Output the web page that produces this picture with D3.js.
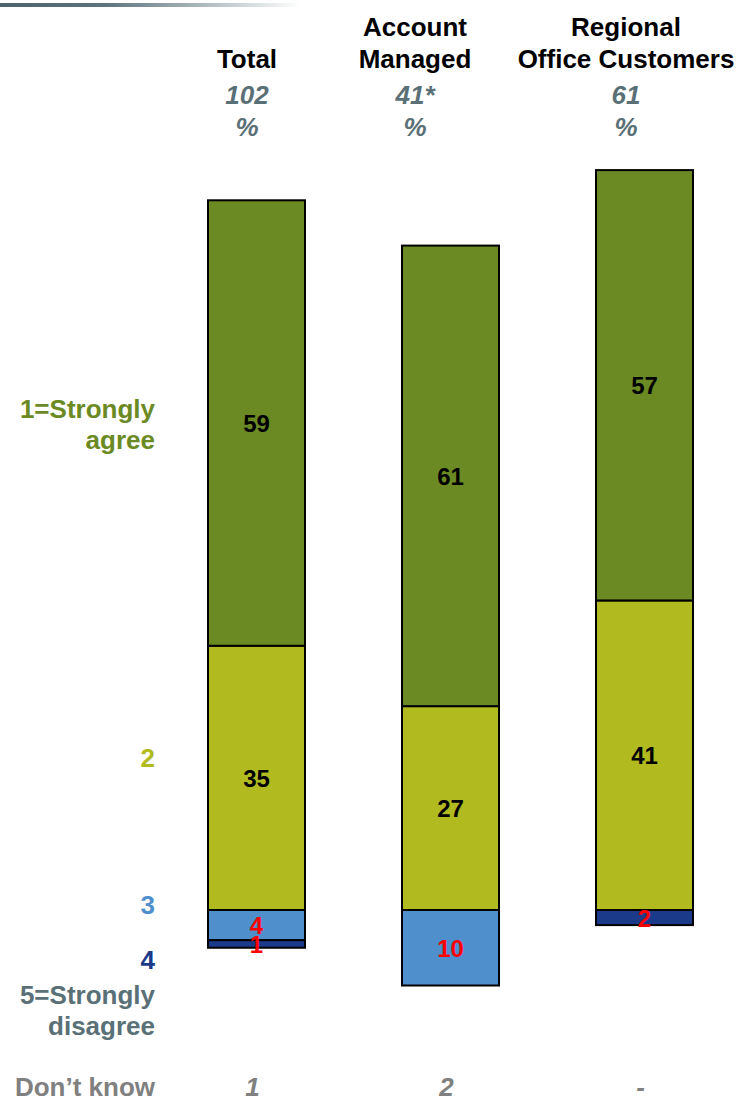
<!DOCTYPE html>
<html>
<head>
<meta charset="utf-8">
<script src="https://cdn.jsdelivr.net/npm/d3@7"></script>
<style>
  html, body { margin: 0; padding: 0; background: #fff; }
  svg { display: block; font-family: "Liberation Sans", Arial, sans-serif; }
</style>
</head>
<body>
<svg id="chart" width="739" height="1102"></svg>
<script>
// data
const groups = ['Total', 'Account Managed', 'Regional Office Customers'];
const headerLines = [['Total'], ['Account', 'Managed'], ['Regional', 'Office Customers']];
const baseCounts = ['102', '41*', '61'];
const agreeStrongly = [59, 61, 57];   // 1=Strongly agree
const agree = [35, 27, 41];           // 2
const neutral = [4, 10, 0];           // 3
const disagree = [1, 0, 2];           // 4
const disagreeStrongly = [0, 0, 0];   // 5=Strongly disagree
const dontKnow = ['1', '2', '-'];

const colors = {
    s1: '#6b8a23',
    s2: '#b1bb1f',
    s3: '#4f8fcc',
    s4: '#1b3a8a',
    s5: '#5a7077',
};

const svg = d3.select('#chart');

// decorative line top left
const defs = svg.append('defs');
const grad = defs.append('linearGradient').attr('id', 'topline');
grad.append('stop').attr('offset', '0%').attr('stop-color', '#4a636d');
grad.append('stop').attr('offset', '35%').attr('stop-color', '#5d747d');
grad.append('stop').attr('offset', '100%').attr('stop-color', '#ffffff');
svg.append('rect').attr('x', 0).attr('y', 3).attr('width', 300).attr('height', 4)
    .attr('fill', 'url(#topline)');

// build stack, positive up (2 then 1), negatives down (3, 4, 5)
const rows = groups.map((g, i) => ({
    group: g,
    s2: agree[i],
    s1: agreeStrongly[i],
    s3: -neutral[i],
    s4: -disagree[i],
    s5: -disagreeStrongly[i],
}));
const keys = ['s2', 's1', 's3', 's4', 's5'];
const series = d3.stack().keys(keys).offset(d3.stackOffsetDiverging)(rows);

const x = d3.scaleBand().domain(groups).range([111, 790]).paddingInner(0.5).paddingOuter(0.5);
const y = d3.scaleLinear().domain([-15, 100]).range([910 + 15 * 7.55, 910 - 100 * 7.55]);

const bars = svg.append('g');
series.forEach(s => {
    const segs = s.filter(d => d[1] - d[0] !== 0);
    bars.selectAll(null)
        .data(segs).enter()
        .append('rect')
        .attr('x', d => x(d.data.group))
        .attr('width', x.bandwidth())
        .attr('y', d => y(d[1]))
        .attr('height', d => y(d[0]) - y(d[1]))
        .attr('fill', colors[s.key])
        .attr('stroke', '#000')
        .attr('stroke-width', 2);
});

// value labels
const labels = svg.append('g').attr('font-weight', 'bold').attr('font-size', 24)
    .attr('text-anchor', 'middle');
series.forEach(s => {
    s.forEach(d => {
        const v = Math.abs(d[1] - d[0]);
        if (v === 0) return;
        labels.append('text')
            .attr('x', x(d.data.group) + x.bandwidth() / 2)
            .attr('y', y((d[0] + d[1]) / 2) + 9)
            .attr('fill', (s.key === 's1' || s.key === 's2') ? '#000' : '#ff0000')
            .text(v);
    });
});

// headers
const headerX = [247, 415, 626];
const head = svg.append('g').attr('text-anchor', 'middle').attr('font-size', 26).attr('font-weight', 'bold');
headerLines.forEach((lines, i) => {
    lines.forEach((ln, j) => {
        head.append('text')
            .attr('x', headerX[i])
            .attr('y', 68 - (lines.length - 1 - j) * 32)
            .attr('fill', '#000')
            .text(ln);
    });
    head.append('text').attr('x', headerX[i]).attr('y', 104)
        .attr('fill', '#5a7077').attr('font-style', 'italic').text(baseCounts[i]);
    head.append('text').attr('x', headerX[i]).attr('y', 136)
        .attr('fill', '#5a7077').attr('font-style', 'italic').text('%');
});

// left legend labels
const legend = [
    { lines: ['1=Strongly', 'agree'], y: 418, color: '#6b8a23' },
    { lines: ['2'], y: 767, color: '#b1bb1f' },
    { lines: ['3'], y: 914, color: '#4f8fcc' },
    { lines: ['4'], y: 969, color: '#1b3a8a' },
    { lines: ['5=Strongly', 'disagree'], y: 1004, color: '#5a7077' },
    { lines: ['Don\u2019t know'], y: 1096, color: '#808080' },
];
const leg = svg.append('g').attr('text-anchor', 'end').attr('font-size', 26).attr('font-weight', 'bold');
legend.forEach(l => {
    l.lines.forEach((ln, j) => {
        leg.append('text')
            .attr('x', 155)
            .attr('y', l.y + j * 31)
            .attr('fill', l.color)
            .text(ln);
    });
});

// don't know row
const dk = svg.append('g').attr('text-anchor', 'middle').attr('font-size', 26)
    .attr('font-weight', 'bold').attr('font-style', 'italic').attr('fill', '#808080');
groups.forEach((g, i) => {
    dk.append('text')
        .attr('x', x(g) + x.bandwidth() / 2 - 4)
        .attr('y', 1096)
        .text(dontKnow[i]);
});
</script>
</body>
</html>
